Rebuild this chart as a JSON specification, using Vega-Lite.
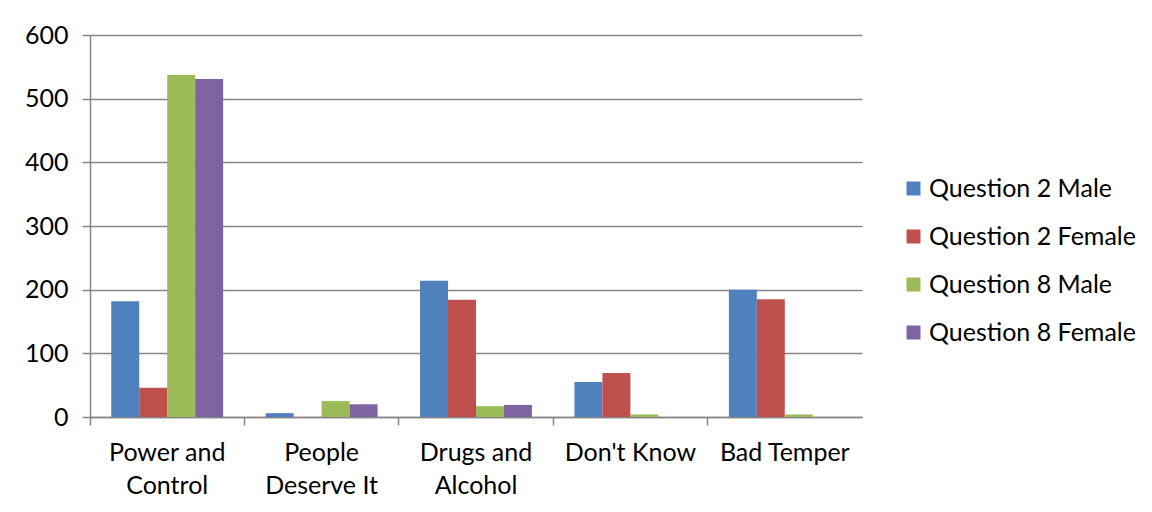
{
  "$schema": "https://vega.github.io/schema/vega-lite/v6.json",
  "width": 772,
  "height": 382,
  "autosize": {"type": "none"},
  "padding": {"left": 90, "top": 35, "right": 290, "bottom": 95},
  "background": "white",
  "data": {
    "values": [
      {"reason": "Power and Control", "series": "Question 2 Male", "count": 182},
      {"reason": "Power and Control", "series": "Question 2 Female", "count": 46},
      {"reason": "Power and Control", "series": "Question 8 Male", "count": 537},
      {"reason": "Power and Control", "series": "Question 8 Female", "count": 531},
      {"reason": "People Deserve It", "series": "Question 2 Male", "count": 6},
      {"reason": "People Deserve It", "series": "Question 2 Female", "count": 0},
      {"reason": "People Deserve It", "series": "Question 8 Male", "count": 25},
      {"reason": "People Deserve It", "series": "Question 8 Female", "count": 20},
      {"reason": "Drugs and Alcohol", "series": "Question 2 Male", "count": 214},
      {"reason": "Drugs and Alcohol", "series": "Question 2 Female", "count": 184},
      {"reason": "Drugs and Alcohol", "series": "Question 8 Male", "count": 17},
      {"reason": "Drugs and Alcohol", "series": "Question 8 Female", "count": 19},
      {"reason": "Don't Know", "series": "Question 2 Male", "count": 55},
      {"reason": "Don't Know", "series": "Question 2 Female", "count": 69},
      {"reason": "Don't Know", "series": "Question 8 Male", "count": 4},
      {"reason": "Don't Know", "series": "Question 8 Female", "count": 0},
      {"reason": "Bad Temper", "series": "Question 2 Male", "count": 200},
      {"reason": "Bad Temper", "series": "Question 2 Female", "count": 185},
      {"reason": "Bad Temper", "series": "Question 8 Male", "count": 4},
      {"reason": "Bad Temper", "series": "Question 8 Female", "count": 0}
    ]
  },
  "mark": {"type": "bar"},
  "encoding": {
    "x": {
      "field": "reason",
      "type": "nominal",
      "sort": null,
      "scale": {"paddingInner": 0, "paddingOuter": 0},
      "axis": {
        "title": null,
        "labelAngle": 0,
        "bandPosition": 0,
        "labelFont": "Lato",
        "labelFontSize": 25,
        "labelColor": "#000000",
        "labelPadding": 15,
        "labelLineHeight": 33,
        "labelLimit": 300,
        "tickSize": 8,
        "tickColor": "#868686",
        "tickWidth": 1.5,
        "domainColor": "#868686",
        "domainWidth": 1.5,
        "labelExpr": "datum.label == 'Power and Control' ? ['Power and', 'Control'] : datum.label == 'People Deserve It' ? ['People', 'Deserve It'] : datum.label == 'Drugs and Alcohol' ? ['Drugs and', 'Alcohol'] : datum.label"
      }
    },
    "xOffset": {
      "field": "series",
      "type": "nominal",
      "sort": ["Question 2 Male", "Question 2 Female", "Question 8 Male", "Question 8 Female"],
      "scale": {"paddingInner": 0, "paddingOuter": 0.76}
    },
    "y": {
      "field": "count",
      "type": "quantitative",
      "scale": {"domain": [0, 600], "nice": false},
      "axis": {
        "title": null,
        "values": [0, 100, 200, 300, 400, 500, 600],
        "labelFont": "Lato",
        "labelFontSize": 25,
        "labelColor": "#000000",
        "labelPadding": 14,
        "tickSize": 8,
        "tickColor": "#868686",
        "tickWidth": 1.5,
        "domainColor": "#868686",
        "domainWidth": 1.5,
        "grid": true,
        "gridColor": "#868686",
        "gridWidth": 1.5
      }
    },
    "color": {
      "field": "series",
      "type": "nominal",
      "sort": ["Question 2 Male", "Question 2 Female", "Question 8 Male", "Question 8 Female"],
      "scale": {
        "domain": ["Question 2 Male", "Question 2 Female", "Question 8 Male", "Question 8 Female"],
        "range": ["#4F81BD", "#C0504D", "#9BBB59", "#8064A2"]
      },
      "legend": {
        "title": null,
        "orient": "none",
        "legendX": 811,
        "legendY": 141,
        "symbolType": "square",
        "symbolSize": 196,
        "symbolStrokeWidth": 0,
        "labelFont": "Lato",
        "labelFontSize": 25,
        "labelColor": "#000000",
        "labelOffset": 3,
        "labelLimit": 300,
        "rowPadding": 22
      }
    }
  },
  "config": {
    "view": {"stroke": null}
  }
}
